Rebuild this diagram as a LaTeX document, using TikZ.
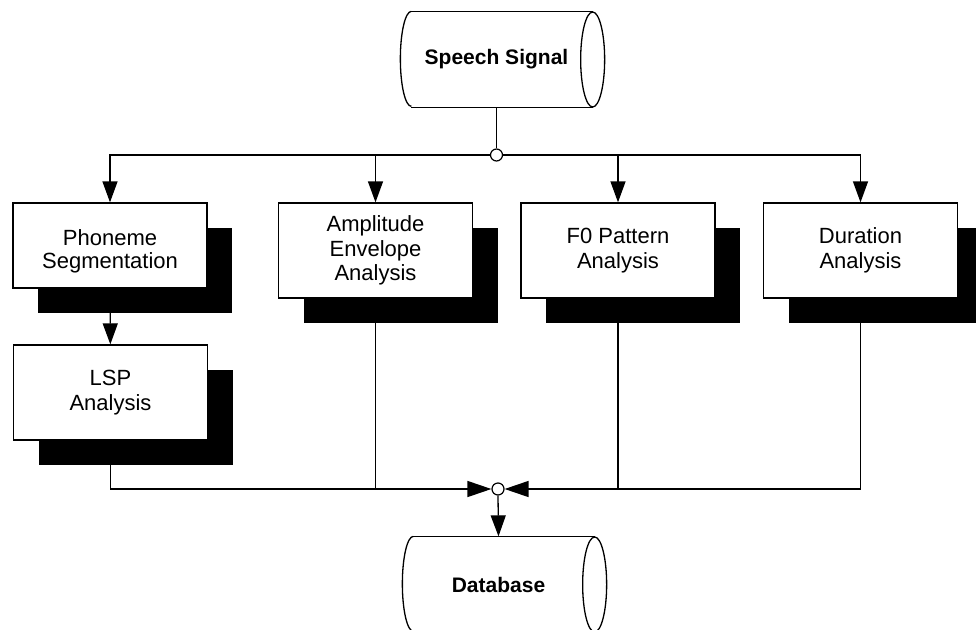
\documentclass[tikz,border=0pt]{standalone}
\usepackage{fontspec}
\setmainfont{Liberation Sans}
\usetikzlibrary{arrows.meta,shadows}

\begin{document}
\begin{tikzpicture}[x=1pt,y=-1pt,
  line width=1.3pt,
  procbox/.style={draw, fill=white, minimum width=194pt, minimum height=95pt, align=center, inner sep=0pt,
    font=\fontsize{22}{24.5}\selectfont,
    drop shadow={shadow xshift=25pt, shadow yshift=-25pt, fill=black, opacity=1}},
  cyl/.style={minimum width=191pt, minimum height=95pt, inner sep=0pt, font=\bfseries\fontsize{21}{24}\selectfont},
  junc/.style={circle, draw, fill=white, minimum size=12pt, inner sep=0pt, line width=1.2pt},
  arr/.style={-{Triangle[length=21pt,width=15pt]}},
  barr/.style={-{Triangle[length=24pt,width=16pt]}},
]
\useasboundingbox (0,0) rectangle (976,629);

% nodes
\node[cyl] (sig) at (496.5,59.5) {Speech Signal};
\node[junc] (j1) at (496.5,155) {};
\node[procbox, minimum height=85pt] (ph) at (110,245.5) {\raisebox{-12pt}[0pt][0pt]{\begin{tabular}{@{}c@{}}Phoneme\\[-1.5pt]Segmentation\end{tabular}}};
\node[procbox] (lsp) at (110.5,392.5) {LSP\\Analysis};
\node[procbox] (amp) at (375.5,250.5) {Amplitude\\Envelope\\Analysis};
\node[procbox] (f0) at (618,250.5) {F0 Pattern\\Analysis};
\node[procbox] (dur) at (860.5,250.5) {Duration\\Analysis};
\node[junc] (j2) at (498,489) {};
\node[cyl] (db) at (498.5,584.5) {Database};

% cylinder outlines
\foreach \c in {sig,db}{
  \draw ([xshift=11pt]\c.north west) -- (\c.north east);
  \draw ([xshift=11pt]\c.south west) -- (\c.south east);
  \draw ([xshift=11pt]\c.north west) arc[start angle=90,end angle=270,x radius=11pt,y radius=47.5pt];
  \draw (\c.east) ellipse[x radius=12pt,y radius=47.5pt];
}

% connectors
\draw (sig) -- (j1);
\draw[arr] (j1.west) -| (ph.north);
\draw[arr] (j1.west) -| (amp.north);
\draw[arr] (j1.east) -| (f0.north);
\draw[arr] (j1.east) -| (dur.north);
\draw[arr] (ph) -- (lsp);
\draw[barr] (lsp.south) |- (j2.west);
\draw (amp.south) -- (amp.south |- j2.center);
\draw (f0.south) -- (f0.south |- j2.center);
\draw[barr] (dur.south) |- (j2.east);
\draw[arr] (j2.south) -- (db.north);
\end{tikzpicture}
\end{document}
